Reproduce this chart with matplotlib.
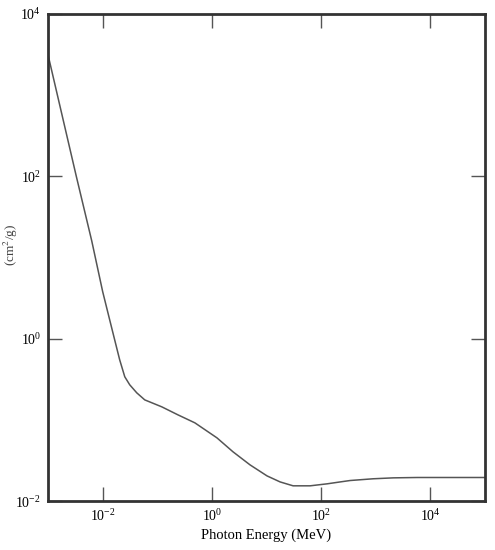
#!/usr/bin/env python3

import numpy as np
import matplotlib
matplotlib.use('Agg')
import matplotlib.pyplot as plt

plt.rcParams['font.family'] = ['Liberation Serif', 'DejaVu Serif']
plt.rcParams['mathtext.fontset'] = 'stix'

# photon energy (MeV) and attenuation coefficient (cm^2/g)
energy = [1.0e-3, 3.29e-3, 6.31e-3, 1.0e-2, 1.34e-2, 1.66e-2, 2.05e-2, 2.54e-2,
          3.13e-2, 4.21e-2, 5.90e-2, 0.121, 0.238, 0.488, 1.236,
          2.43, 4.98, 10.2, 17.7, 30.6, 62.8, 128.8, 223.0, 339.0,
          891.0, 2090.0, 5750.0, 1.0e5]
mu = [3126.0, 100.0, 16.0, 3.8, 1.72, 0.966, 0.548, 0.339,
      0.270, 0.215, 0.176, 0.1445, 0.1153, 0.0918, 0.0600,
      0.0404, 0.0279, 0.0204, 0.0172, 0.0154, 0.0154, 0.0163, 0.0172, 0.0179,
      0.0188, 0.0193, 0.0195, 0.0195]

fig = plt.figure(figsize=(4.95, 5.5), dpi=100)
ax = fig.add_axes([0.097, 0.089, 0.883, 0.886])

ax.plot(energy, mu, color='#555555', lw=1.1)

ax.set_xscale('log')
ax.set_yscale('log')
ax.set_xlim(1e-3, 1e5)
ax.set_ylim(1e-2, 1e4)

ax.set_xticks([1e-2, 1e0, 1e2, 1e4])
ax.set_yticks([1e-2, 1e0, 1e2, 1e4])
ax.minorticks_off()
ax.tick_params(direction='in', length=10, width=1, color='#555555',
               top=True, right=True, labelsize=10, pad=5)

for sp in ax.spines.values():
    sp.set_linewidth(2)
    sp.set_color('#333333')

ax.set_xlabel('Photon Energy (MeV)', fontsize=10.5, labelpad=3)
fig.text(0.004, 0.555, '(cm$^2$/g)', rotation=90, fontsize=9.5,
         ha='left', va='center', color='#444444')

fig.savefig('out.png', dpi=100)
